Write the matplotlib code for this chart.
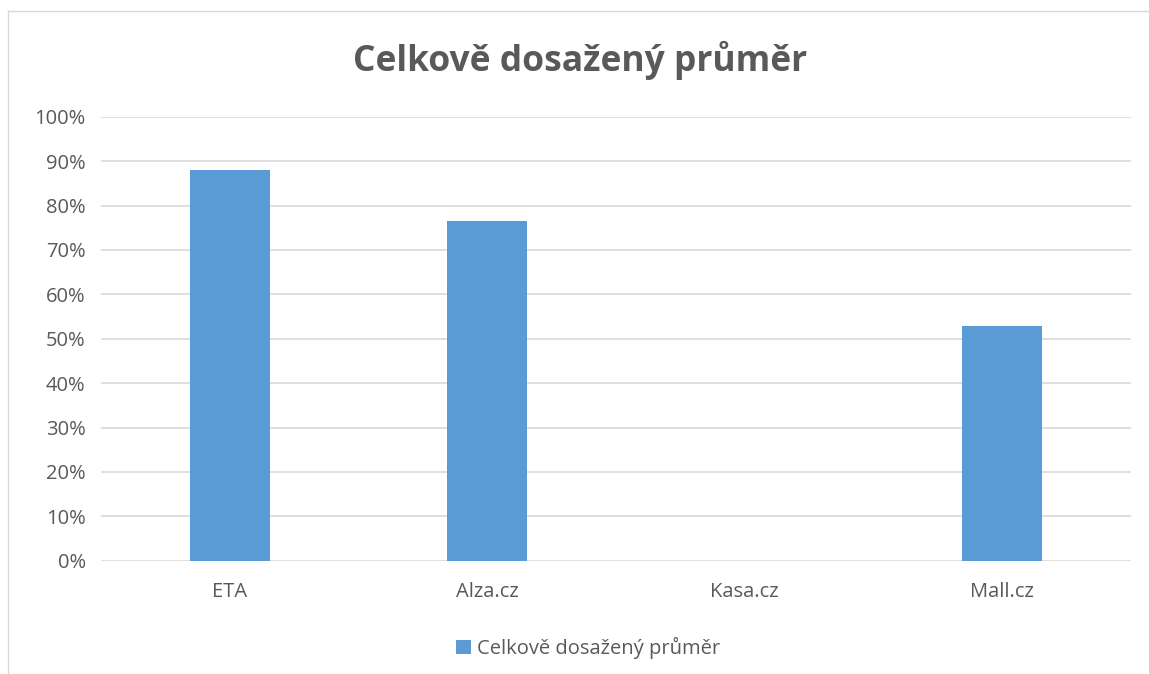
import matplotlib
matplotlib.use("Agg")
import matplotlib.pyplot as plt
from matplotlib.lines import Line2D
from matplotlib.ticker import PercentFormatter

# Chart data
categories = ["ETA", "Alza.cz", "Kasa.cz", "Mall.cz"]
values = [0.881, 0.764, 0.0, 0.529]
y_ticks = [i / 10 for i in range(11)]
series_name = "Celkově dosažený průměr"
title = "Celkově dosažený průměr"

plt.rcParams['font.family'] = ['Open Sans', 'DejaVu Sans']
text_color = "#595959"
bar_color = "#5b9bd5"
grid_color = "#d9d9d9"

fig = plt.figure(figsize=(11.49, 6.74), dpi=100)
ax = fig.add_axes([101 / 1149, 1 - 560.7 / 674, 1030 / 1149, 444 / 674])

ax.bar(range(len(categories)), values, width=0.31, color=bar_color,
       label=series_name, zorder=3)

ax.set_xlim(-0.5, len(categories) - 0.5)
ax.set_ylim(0, 1)
ax.set_yticks(y_ticks)
ax.yaxis.set_major_formatter(PercentFormatter(1.0, decimals=0))
ax.set_xticks(range(len(categories)))
ax.set_xticklabels(categories)
ax.tick_params(axis="both", length=0, labelsize=14.5, colors=text_color)
ax.tick_params(axis="x", pad=15)
ax.tick_params(axis="y", pad=11)
ax.grid(axis="y", color=grid_color, linewidth=1.2, zorder=0)
for side in ["top", "right", "left", "bottom"]:
    ax.spines[side].set_visible(False)

# title centred over the chart area
fig.text(580 / 1149, 1 - 60 / 674, title, ha="center", va="center",
         fontsize=25.5, fontweight="bold", color=text_color)

fig.legend(loc="center", bbox_to_anchor=(588 / 1149, 1 - 648 / 674),
           frameon=False, fontsize=14.5, labelcolor=text_color,
           handlelength=0.75, handleheight=0.75, handletextpad=0.3)

# outer chart border (top and left visible)
fig.add_artist(Line2D([8 / 1149, 1], [1 - 11 / 674, 1 - 11 / 674],
                      transform=fig.transFigure, color=grid_color, linewidth=1))
fig.add_artist(Line2D([8 / 1149, 8 / 1149], [0, 1 - 11 / 674],
                      transform=fig.transFigure, color=grid_color, linewidth=1))

fig.savefig("out.png", dpi=100)
